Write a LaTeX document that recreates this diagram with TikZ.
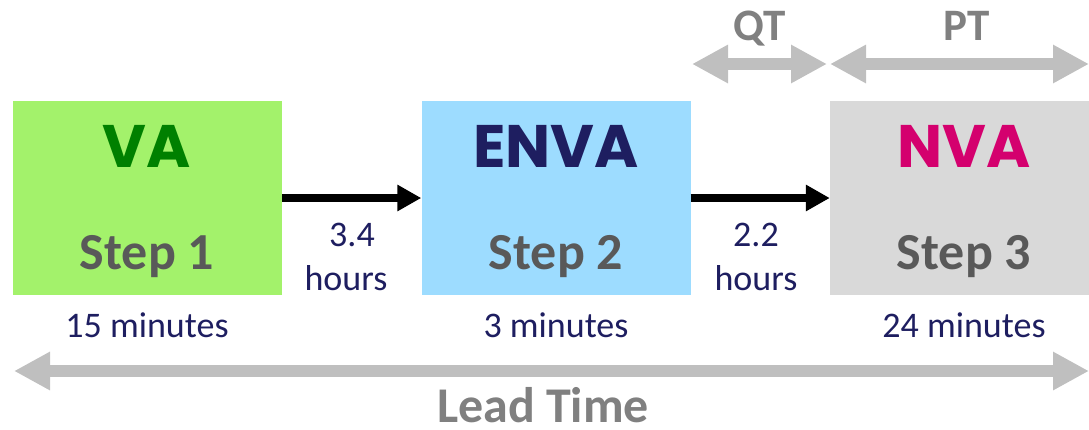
\documentclass[tikz,border=0pt]{standalone}
\usepackage{fontspec}
\setmainfont{Carlito}
\newfontfamily\headfont{Poppins}
\usetikzlibrary{arrows.meta, positioning, calc}
\definecolor{vagreen}{RGB}{163, 242, 107}
\definecolor{vablue}{RGB}{157, 220, 255}
\definecolor{vagray}{RGB}{217, 217, 217}
\definecolor{vadkgreen}{RGB}{0, 128, 0}
\definecolor{vanavy}{RGB}{30, 30, 96}
\definecolor{vapink}{RGB}{212, 0, 110}
\definecolor{vatext}{RGB}{89, 89, 89}
\definecolor{vaarrow}{RGB}{191, 191, 191}
\definecolor{valabel}{RGB}{128, 128, 128}

\begin{document}
\begin{tikzpicture}[x=1pt, y=-1pt, >=Stealth,
  stepbox/.style={minimum width=269pt, minimum height=194pt, inner sep=0pt},
  head/.style={anchor=base, font=\fontsize{60}{60}\headfont\bfseries},
  steplabel/.style={anchor=base, text=vatext, font=\fontsize{52}{52}\selectfont\bfseries},
  timelabel/.style={anchor=base, text=vanavy, font=\fontsize{36}{36}\selectfont},
  flow/.style={line width=8pt, -{Triangle[length=24pt, width=25pt]}},
  span/.style={line width=12pt, vaarrow, {Triangle[length=36pt, width=36pt]}-{Triangle[length=36pt, width=36pt]}},
  spanlabel/.style={anchor=base, text=valabel, font=\fontsize{45}{45}\selectfont\bfseries}]

\useasboundingbox (0,0) rectangle (1089,429);

% --- Pasos ---
\node[stepbox, fill=vagreen] (step1) at (147.5, 198) {};
\node[stepbox, fill=vablue] (step2) at (556, 198) {};
\node[stepbox, fill=vagray, minimum width=259pt] (step3) at (959.5, 198) {};

\node[head, text=vadkgreen] (va) at (147, 167) {VA};
\node[head, text=vanavy] (enva) at (556, 167) {ENVA};
\node[head, text=vapink] (nva) at (964, 167) {NVA};

\node[steplabel] (s1) at (147, 269) {Step 1};
\node[steplabel] (s2) at (556, 269) {Step 2};
\node[steplabel] (s3) at (964, 269) {Step 3};

% --- Flujos entre pasos ---
\draw[flow] (step1) -- (step2);
\draw[flow] (step2) -- (step3);
\node[timelabel] (w1a) at (352, 246) {3.4};
\node[timelabel] (w1b) at (346, 290) {hours};
\node[timelabel] (w2a) at (756, 246) {2.2};
\node[timelabel] (w2b) at (756, 290) {hours};

% --- Tiempos de proceso ---
\node[timelabel] (t1) at (147, 337) {15 minutes};
\node[timelabel] (t2) at (556, 337) {3 minutes};
\node[timelabel] (t3) at (964, 337) {24 minutes};

% --- QT y PT ---
\coordinate (qtl) at (692, 64);
\coordinate (qtr) at (827, 64);
\coordinate (ptl) at (830, 64);
\coordinate (ptr) at (1089, 64);
\draw[span] (qtl) -- (qtr);
\draw[span] (ptl) -- (ptr);
\node[spanlabel] (qt) at (760, 40) {QT};
\node[spanlabel] (pt) at (967, 40) {PT};

% --- Lead time ---
\coordinate (ltl) at (14, 371);
\coordinate (ltr) at (1089, 371);
\draw[span] (ltl) -- (ltr);
\node[spanlabel, inner sep=0pt, font=\fontsize{50}{50}\selectfont\bfseries] (lt) at (543, 422) {Lead Time};

\end{tikzpicture}
\end{document}
